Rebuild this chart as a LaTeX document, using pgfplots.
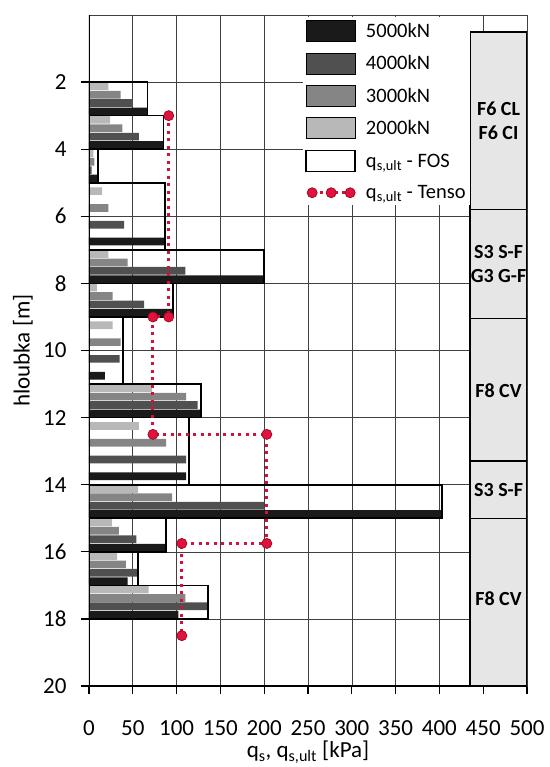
\documentclass[border=0pt]{standalone}
\usepackage{pgfplots}
\pgfplotsset{compat=1.18}
\usepackage{fontspec}
\setmainfont{Carlito}
\definecolor{c5}{HTML}{1A1A1A}
\definecolor{c4}{HTML}{505050}
\definecolor{c3}{HTML}{858585}
\definecolor{c2}{HTML}{B8B8B8}
\definecolor{tred}{HTML}{E3123C}
\definecolor{tdark}{HTML}{9E0B25}
\definecolor{tline}{HTML}{D0103E}
\definecolor{soil}{HTML}{E6E6E6}
\pgfplotsset{
  barst/.style={xbar, bar width=0.23, bar shift=0pt, draw=none,
    legend image code/.code={\draw[##1] (0pt,-10.5pt) rectangle (49pt,10.5pt);}},
  foslegend/.style={legend image code/.code={\draw[##1, fill=white] (0pt,-10.5pt) rectangle (49pt,10.5pt);}},
  tensolegend/.style={legend image code/.code={\draw[##1] plot coordinates {(6pt,0pt) (25pt,0pt) (44pt,0pt)};}},
  soilbox/.style={fill=soil, draw=black, line width=1.5pt, forget plot},
}
\begin{document}
\begin{tikzpicture}
\useasboundingbox (-89pt,-81pt) rectangle (460pt,686pt);
\begin{axis}[
  at={(0,0)}, anchor=south west,
  scale only axis, width=438pt, height=671pt,
  xmin=0, xmax=500, ymin=0, ymax=20, y dir=reverse,
  xtick={0,50,...,500}, ytick={2,4,...,20},
  grid=major, grid style={black!75, line width=0.6pt},
  axis line style={black!75, line width=0.6pt},
  tick align=outside, major tick length=8pt, tick style={black, line width=1.3pt},
  xtick pos=bottom, ytick pos=left,
  ticklabel style={font=\fontsize{23}{27}\selectfont},
  xticklabel style={yshift=-23pt},
  yticklabel style={xshift=-11pt},
  /pgf/number format/assume math mode=true,
  xlabel={q\textsubscript{s}, q\textsubscript{s,ult} [kPa]},
  ylabel={hloubka [m]},
  every axis x label/.style={at={(axis description cs:0.5,-0.0984)}, anchor=center},
  every axis y label/.style={at={(axis description cs:-0.151,0.5)}, rotate=90, anchor=center},
  label style={font=\fontsize{23}{27}\selectfont},
  legend style={at={(0.489,0.997)}, anchor=north west, draw=none, fill=white,
    font=\fontsize{20.5}{24}\selectfont, row sep=11pt, inner xsep=2pt, inner ysep=3pt,
    /tikz/every odd column/.append style={column sep=8pt}},
  legend cell align=left,
]
\addplot[barst, fill=c5] coordinates {(67,2.875) (85,3.875) (9,4.875) (86,6.75) (200,7.875) (96,8.875) (18,10.75) (128,11.875) (111,13.75) (403,14.875) (88,15.875) (44,16.875) (102,17.875)};
\addlegendentry{5000kN}
\addplot[barst, fill=c4] coordinates {(50,2.625) (57,3.625) (3,4.625) (40,6.25) (110,7.625) (63,8.625) (35,10.25) (124,11.625) (111,13.25) (200,14.625) (54,15.625) (55,16.625) (136,17.625)};
\addlegendentry{4000kN}
\addplot[barst, fill=c3] coordinates {(36,2.375) (38,3.375) (6,4.375) (22,5.75) (44,7.375) (27,8.375) (36,9.75) (111,11.375) (88,12.75) (95,14.375) (34,15.375) (42,16.375) (110,17.375)};
\addlegendentry{3000kN}
\addplot[barst, fill=c2] coordinates {(22,2.125) (24,3.125) (5,4.125) (15,5.25) (22,7.125) (9,8.125) (27,9.25) (72,11.125) (57,12.25) (56,14.125) (26,15.125) (32,16.125) (68,17.125)};
\addlegendentry{2000kN}
\addplot[xbar, bar width=1, bar shift=0pt, fill=none, draw=black, line width=1.6pt, foslegend]
  coordinates {(67,2.5) (85,3.5) (10,4.5) (200,7.5) (96,8.5) (128,11.5) (403,14.5) (88,15.5) (56,16.5) (136,17.5)};
\addlegendentry{q\textsubscript{s,ult} - FOS}
\addplot[xbar, bar width=2, bar shift=0pt, fill=none, draw=black, line width=1.6pt, forget plot]
  coordinates {(87,6) (39,10) (114,13)};
\addplot[color=tline, line width=3pt, dash pattern=on 3pt off 4.5pt,
  mark=*, mark size=5pt, mark options={solid, fill=tred, draw=tdark, line width=0.8pt}, tensolegend]
  coordinates {(91,3) (91,9) (73,9) (73,12.5) (203,12.5) (203,15.75) (106,15.75) (106,18.5)};
\addlegendentry{q\textsubscript{s,ult} - Tenso}
\addplot[soilbox] coordinates {(435,0.5) (500,0.5) (500,5.8) (435,5.8)} -- cycle;
\addplot[soilbox] coordinates {(435,5.8) (500,5.8) (500,9.05) (435,9.05)} -- cycle;
\addplot[soilbox] coordinates {(435,9.05) (500,9.05) (500,13.3) (435,13.3)} -- cycle;
\addplot[soilbox] coordinates {(435,13.3) (500,13.3) (500,15.0) (435,15.0)} -- cycle;
\addplot[soilbox] coordinates {(435,15.0) (500,15.0) (500,20) (435,20)} -- cycle;
\node[font=\bfseries\fontsize{20}{24}\selectfont, align=center] at (axis cs:467.5,3.15) {F6 CL\\F6 CI};
\node[font=\bfseries\fontsize{20}{24}\selectfont, align=center] at (axis cs:467.5,7.42) {S3 S-F\\G3 G-F};
\node[font=\bfseries\fontsize{20}{24}\selectfont, align=center] at (axis cs:467.5,11.2) {F8 CV};
\node[font=\bfseries\fontsize{20}{24}\selectfont, align=center] at (axis cs:467.5,14.15) {S3 S-F};
\node[font=\bfseries\fontsize{20}{24}\selectfont, align=center] at (axis cs:467.5,17.4) {F8 CV};
\draw[black, line width=2pt] (axis cs:0,0) -- (axis cs:0,20) -- (axis cs:500,20);
\end{axis}
\end{tikzpicture}
\end{document}
